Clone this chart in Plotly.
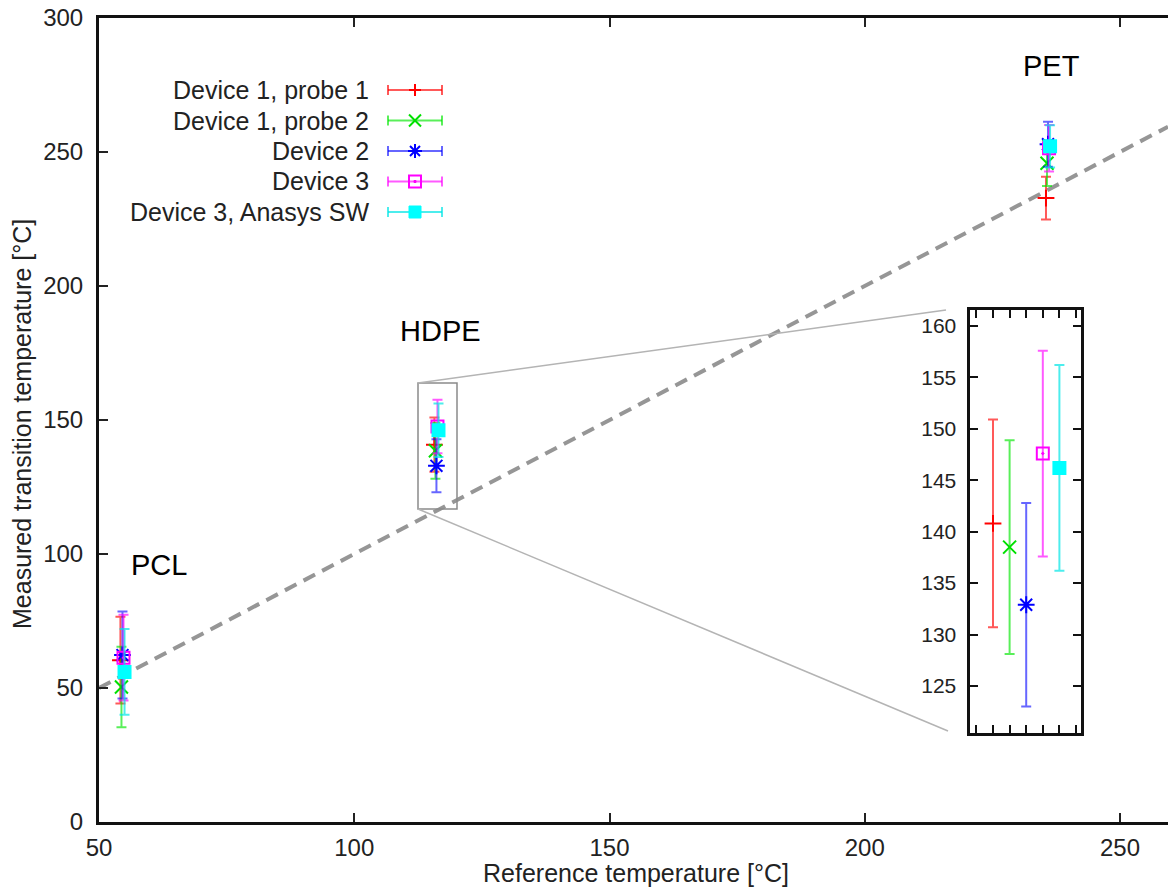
import plotly.graph_objects as go

# ---------------- data ----------------
materials = ["PCL", "HDPE", "PET"]
series_names = ["Device 1, probe 1", "Device 1, probe 2", "Device 2", "Device 3", "Device 3, Anasys SW"]

# reference temperature (x) per series, per material
ref_d1p1 = [54.2, 115.7, 235.5]
ref_d1p2 = [54.4, 115.9, 235.7]
ref_d2 = [54.6, 116.1, 235.9]
ref_d3 = [54.8, 116.3, 236.1]
ref_d3a = [55.0, 116.5, 236.3]

# measured transition temperature (y)
meas_d1p1 = [60.4, 140.8, 232.8]
meas_d1p2 = [50.4, 138.5, 245.8]
meas_d2 = [62.3, 132.9, 252.9]
meas_d3 = [61.3, 147.6, 251.4]
meas_d3a = [56.0, 146.2, 252.1]

# error (+/-)
err_d1p1 = [16.2, 10.1, 8.0]
err_d1p2 = [15.0, 10.4, 8.5]
err_d2 = [16.2, 9.9, 8.4]
err_d3 = [16.0, 10.0, 8.7]
err_d3a = [16.0, 10.0, 7.9]

x_ticks = [50, 100, 150, 200, 250]
y_ticks = [0, 50, 100, 150, 200, 250, 300]
inset_y_ticks = [125, 130, 135, 140, 145, 150, 155, 160]

# ---------------- layout constants ----------------
OFF = 0                      # body margin removed via post_script
W, H = 1168 - OFF, 890 - OFF
L, T, B, R = 99 - OFF, 18 - OFF, 68, 0
PW, PH = W - L - R, H - T - B
X_RANGE = [50, 259.4]
Y_RANGE = [0, 300]
FONT = "Liberation Sans, Arial, sans-serif"
TXT = "#222222"


def px_x(px):
    return (px - OFF - L) / PW


def px_y(py):
    return (T + PH - (py - OFF)) / PH


series = [
    dict(x=ref_d1p1, y=meas_d1p1, e=err_d1p1, mc="#ff0000", ec="rgba(255,0,0,0.65)",
         sym="cross-thin", size=12),
    dict(x=ref_d1p2, y=meas_d1p2, e=err_d1p2, mc="#00e000", ec="rgba(0,230,0,0.65)",
         sym="x-thin", size=13),
    dict(x=ref_d2, y=meas_d2, e=err_d2, mc="#0000ff", ec="rgba(0,0,255,0.6)",
         sym="asterisk", size=14),
    dict(x=ref_d3, y=meas_d3, e=err_d3, mc="#ff00ff", ec="rgba(255,0,255,0.65)",
         sym="square-open-dot", size=12),
    dict(x=ref_d3a, y=meas_d3a, e=err_d3a, mc="#00ffff", ec="rgba(0,230,230,0.7)",
         sym="square", size=12),
]

fig = go.Figure()

HDPE = materials.index("HDPE")
for name, s in zip(series_names, series):
    marker = dict(symbol=s["sym"], size=s["size"], color=s["mc"],
                  line=dict(color=s["mc"], width=2))
    # main plot
    fig.add_trace(go.Scatter(
        x=s["x"], y=s["y"], mode="markers", name=name, showlegend=False,
        marker=marker,
        error_y=dict(type="data", array=s["e"], visible=True, color=s["ec"],
                     thickness=2, width=5),
        xaxis="x", yaxis="y", cliponaxis=False))
    # inset (HDPE only)
    fig.add_trace(go.Scatter(
        x=[s["x"][HDPE]], y=[s["y"][HDPE]], mode="markers", name=name, showlegend=False,
        marker=marker,
        error_y=dict(type="data", array=[s["e"][HDPE]], visible=True, color=s["ec"],
                     thickness=2, width=5),
        xaxis="x2", yaxis="y2"))

shapes = []
# identity (y = x) dashed line
shapes.append(dict(type="line", xref="x", yref="y", x0=X_RANGE[0], y0=X_RANGE[0],
                   x1=X_RANGE[1], y1=X_RANGE[1], layer="below",
                   line=dict(color="rgb(150,150,150)", width=4, dash="13px,8px")))
# zoom rectangle and connectors
shapes.append(dict(type="rect", xref="paper", yref="paper",
                   x0=px_x(418), x1=px_x(457), y0=px_y(509), y1=px_y(383),
                   line=dict(color="#8a8a8a", width=1.5)))
shapes.append(dict(type="line", xref="paper", yref="paper",
                   x0=px_x(418), y0=px_y(383), x1=px_x(946), y1=px_y(310),
                   line=dict(color="#b4b4b4", width=1.5)))
shapes.append(dict(type="line", xref="paper", yref="paper",
                   x0=px_x(418), y0=px_y(509), x1=px_x(948), y1=px_y(731),
                   line=dict(color="#b4b4b4", width=1.5)))

annotations = []
# manual legend (text right-aligned, key on the right, gnuplot style)
LEG_Y0, LEG_DY = 90, 30.5
for i, (name, s) in enumerate(zip(series_names, series)):
    yc = LEG_Y0 + i * LEG_DY
    annotations.append(dict(text=name, xref="paper", yref="paper", x=px_x(371), y=px_y(yc),
                            xanchor="right", yanchor="middle", showarrow=False,
                            font=dict(family=FONT, size=25, color=TXT)))
    ln = dict(color=s["ec"], width=2)
    shapes.append(dict(type="line", xref="paper", yref="paper", x0=px_x(388), x1=px_x(442),
                       y0=px_y(yc), y1=px_y(yc), line=ln))
    for xe in (388, 442):
        shapes.append(dict(type="line", xref="paper", yref="paper", x0=px_x(xe), x1=px_x(xe),
                           y0=px_y(yc - 5), y1=px_y(yc + 5), line=ln))
    anchor = dict(xref="paper", yref="paper", xsizemode="pixel", ysizemode="pixel",
                  xanchor=px_x(415), yanchor=px_y(yc))
    mk = dict(color=s["mc"], width=2)
    if s["sym"] == "cross-thin":
        shapes.append(dict(type="path", path="M-6,0 L6,0 M0,-6 L0,6", line=mk, **anchor))
    elif s["sym"] == "x-thin":
        shapes.append(dict(type="path", path="M-6,-6 L6,6 M-6,6 L6,-6", line=mk, **anchor))
    elif s["sym"] == "asterisk":
        shapes.append(dict(type="path",
                           path="M-7,0 L7,0 M0,-7 L0,7 M-5,-5 L5,5 M-5,5 L5,-5",
                           line=mk, **anchor))
    elif s["sym"] == "square-open-dot":
        shapes.append(dict(type="rect", x0=-6, x1=6, y0=-6, y1=6, line=mk, **anchor))
        shapes.append(dict(type="rect", x0=-1, x1=1, y0=-1, y1=1, line=dict(color=s["mc"], width=1),
                           fillcolor=s["mc"], **anchor))
    else:
        shapes.append(dict(type="rect", x0=-6, x1=6, y0=-6, y1=6, line=dict(color=s["mc"], width=1),
                           fillcolor=s["mc"], **anchor))

# material labels
label_px = {"PCL": (159, 565), "HDPE": (440, 331), "PET": (1051, 66)}
for m in materials:
    px, py = label_px[m]
    annotations.append(dict(text=m, xref="paper", yref="paper", x=px_x(px), y=px_y(py),
                            xanchor="center", yanchor="middle", showarrow=False,
                            font=dict(family=FONT, size=29, color="#000000")))

# axis titles
annotations.append(dict(text="Measured transition temperature [°C]", xref="paper", yref="paper",
                        x=px_x(22), y=px_y(424), textangle=-90, showarrow=False,
                        xanchor="center", yanchor="middle",
                        font=dict(family=FONT, size=25, color=TXT)))
annotations.append(dict(text="Reference temperature [°C]", xref="paper", yref="paper",
                        x=px_x(636), y=px_y(873), showarrow=False,
                        xanchor="center", yanchor="middle",
                        font=dict(family=FONT, size=25, color=TXT)))

# inset geometry (reference pixel coordinates of the frame)
IX0, IX1, IY0, IY1 = 969.5, 1080.5, 309.5, 732.5

fig.update_layout(
    width=W, height=H,
    margin=dict(l=L, r=R, t=T, b=B, pad=0, autoexpand=False),
    paper_bgcolor="white", plot_bgcolor="white",
    font=dict(family=FONT, color=TXT),
    showlegend=False,
    xaxis=dict(range=X_RANGE, tickvals=x_ticks, ticks="inside", ticklen=9, tickwidth=1.5,
               tickcolor="#222", showline=True, linecolor="#111", linewidth=3, mirror="ticks",
               showgrid=False, zeroline=False, tickfont=dict(size=24, color=TXT),
               domain=[0, 1], ticklabelstandoff=2, ticklabeloverflow="allow",
               automargin=False),
    yaxis=dict(range=Y_RANGE, tickvals=y_ticks, ticks="inside", ticklen=9, tickwidth=1.5,
               tickcolor="#222", showline=True, linecolor="#111", linewidth=3,
               showgrid=False, zeroline=False, tickfont=dict(size=24, color=TXT),
               domain=[0, 1], ticklabelstandoff=8, ticklabeloverflow="allow",
               automargin=False),
    xaxis2=dict(domain=[px_x(IX0), px_x(IX1)], anchor="y2", range=[115.417, 116.754],
                tick0=115.5, dtick=0.2, ticks="inside", ticklen=8, tickwidth=2, tickcolor="#111",
                showticklabels=False, showline=True, linecolor="#111", linewidth=3,
                mirror="ticks", showgrid=False, zeroline=False, automargin=False),
    yaxis2=dict(domain=[px_y(IY1), px_y(IY0)], anchor="x2", range=[120.48, 161.6],
                tickvals=inset_y_ticks, ticks="inside", ticklen=8, tickwidth=2, tickcolor="#111",
                showline=True, linecolor="#111", linewidth=3, mirror="ticks",
                showgrid=False, zeroline=False, tickfont=dict(size=21, color=TXT),
                ticklabelstandoff=6, automargin=False),
    shapes=shapes,
    annotations=annotations,
)

fig.write_html("out.html",
               config={"displayModeBar": False},
               post_script="document.body.style.margin='0px';document.body.style.overflow='hidden';")
